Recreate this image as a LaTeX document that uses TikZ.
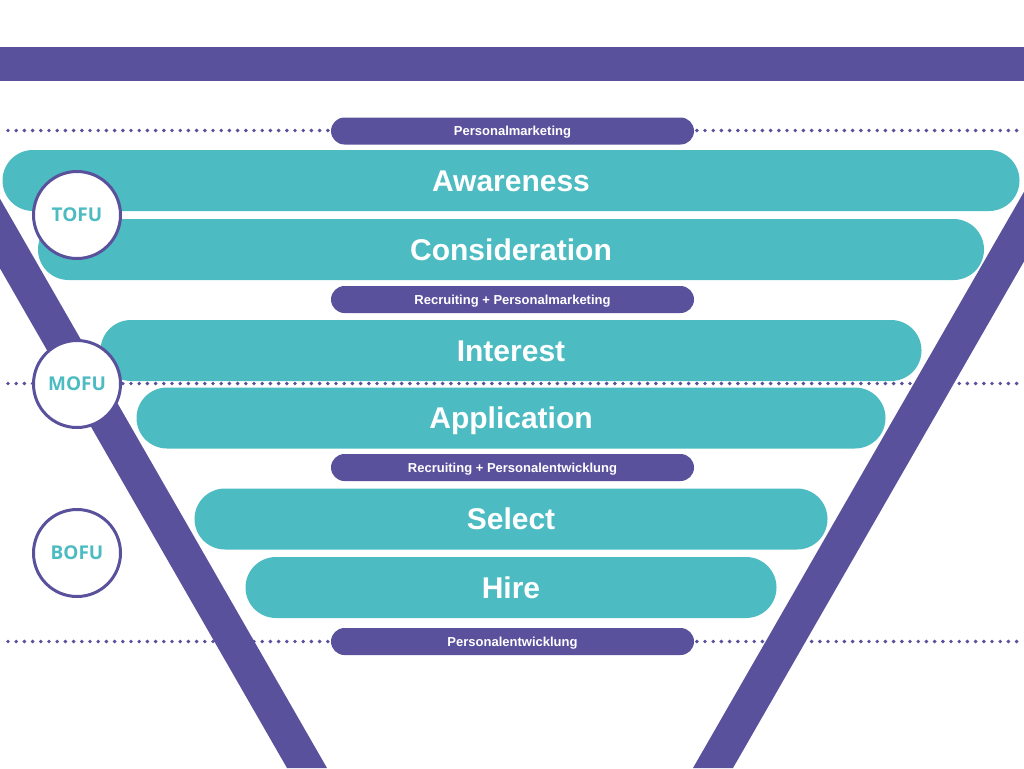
\documentclass[tikz,border=0pt]{standalone}
\usepackage{fontspec}
\setmainfont{Liberation Sans}
\newfontfamily\phasefont{Open Sans}
\usetikzlibrary{shapes.misc}
\definecolor{funnelpurple}{HTML}{5A519D}
\definecolor{funnelteal}{HTML}{4CBBC2}

\begin{document}
\begin{tikzpicture}[x=1pt, y=-1pt,
	stage/.style = {rounded rectangle, fill=funnelteal, text=white, inner sep=0pt,
		minimum height=61pt, font=\fontsize{30}{30}\selectfont\bfseries,
		text height=21.5pt, text depth=0pt},
	tag/.style = {rounded rectangle, fill=funnelpurple, text=white, inner sep=0pt,
		minimum width=363pt, minimum height=27pt, font=\fontsize{13}{13}\selectfont\bfseries,
		text height=9.3pt, text depth=0pt},
	phase/.style = {circle, draw=funnelpurple, line width=3pt, fill=white, minimum size=87pt,
		inner sep=0pt, text=funnelteal, font=\phasefont\fontsize{19}{19}\selectfont\bfseries},
	dotline/.style = {funnelpurple, line width=3.9pt, line cap=round, dash pattern=on 0pt off 8.2pt}]
	
	\useasboundingbox (0,0) rectangle (1024,768);
	\clip (0,0) rectangle (1024,768);
	
	% top bar
	\fill[funnelpurple] (0,47) rectangle (1024,81);
	
	% dotted separators
	\foreach \i/\y in {1/130.5, 2/383.5, 3/641.5}
	{
		\coordinate (dotL\i) at (8,\y);
		\coordinate (dotR\i) at (1017,\y);
		\draw[dotline] (dotL\i) -- (dotR\i);
	}
	
	% funnel sides
	\fill[funnelpurple] (287,768) -- (327,768) -- (-28,150) -- (-68,150) -- cycle;
	\fill[funnelpurple] (693,768) -- (733,768) -- (1088,150) -- (1048,150) -- cycle;
	
	\foreach \name/\y/\w in {Awareness/180.5/1017, Consideration/249.5/946, Interest/350.5/821,
		Application/418/749, Select/519/633, Hire/587.5/531}
	{
		\node[stage, minimum width=\w pt] (\name) at (511,\y) {\name};
	}
	
	\foreach \name/\y/\txt in {tagPM/131/Personalmarketing, tagRP/299.5/Recruiting + Personalmarketing,
		tagRE/467.5/Recruiting + Personalentwicklung, tagPE/641.5/Personalentwicklung}
	{
		\node[tag] (\name) at (512.5,\y) {\txt};
	}
	
	\foreach \name/\y in {TOFU/215, MOFU/384, BOFU/553}
	{
		\node[phase] (\name) at (77,\y) {\name};
	}
\end{tikzpicture}
\end{document}
